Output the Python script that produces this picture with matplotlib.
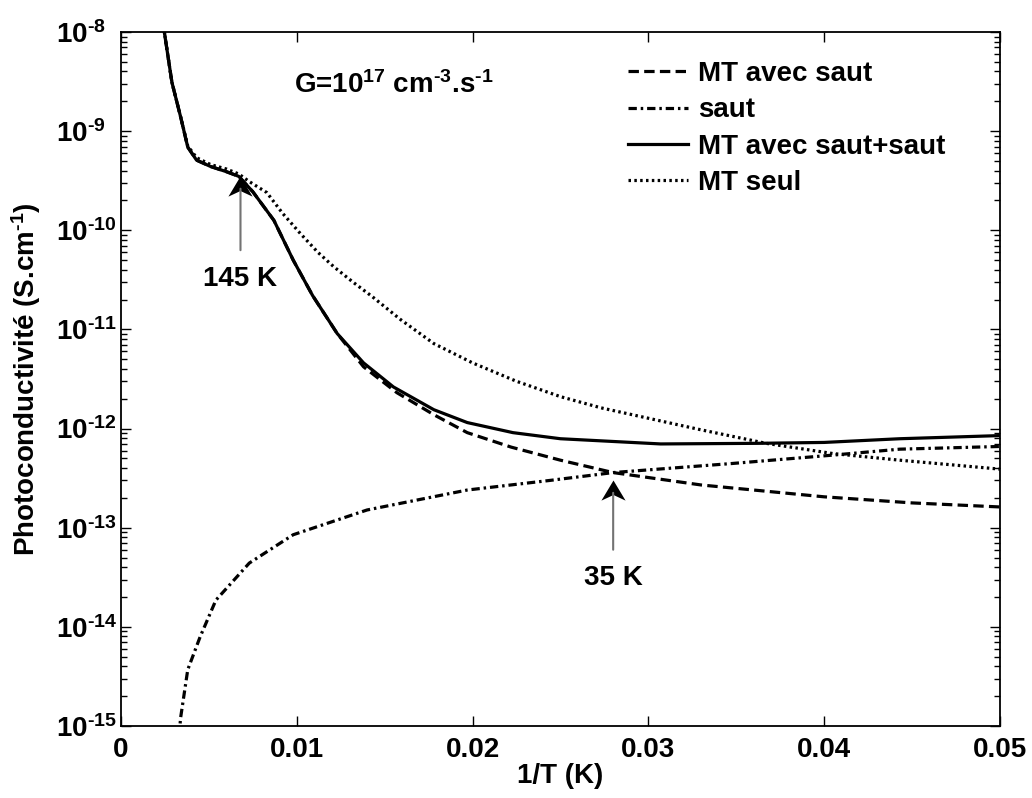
import numpy as np
import matplotlib
matplotlib.use('Agg')
from matplotlib import pyplot as plt
from matplotlib.path import Path
from matplotlib.ticker import LogLocator, NullFormatter, FuncFormatter

plt.rcParams['font.family'] = 'Liberation Sans'
plt.rcParams['font.weight'] = 'bold'
plt.rcParams['axes.labelweight'] = 'bold'
plt.rcParams['font.size'] = 20
plt.rcParams['mathtext.fontset'] = 'custom'
plt.rcParams['mathtext.rm'] = 'Liberation Sans:bold'
plt.rcParams['mathtext.it'] = 'Liberation Sans:bold'
plt.rcParams['mathtext.bf'] = 'Liberation Sans:bold'
plt.rcParams['lines.scale_dashes'] = False

# MT avec saut + saut (solid)
x_total = [0.0024, 0.0029, 0.0034, 0.0038, 0.0043, 0.0051, 0.0060, 0.0067, 0.0075, 0.0087,
           0.0098, 0.0109, 0.0123, 0.0138, 0.0155, 0.0178, 0.0197, 0.0223, 0.0250, 0.0307,
           0.0362, 0.0400, 0.0443, 0.0500]
s_total = [1.2e-8, 3.1e-9, 1.38e-9, 6.9e-10, 5.1e-10, 4.4e-10, 3.9e-10, 3.5e-10, 2.45e-10, 1.26e-10,
           5.0e-11, 2.2e-11, 9.1e-12, 4.6e-12, 2.63e-12, 1.55e-12, 1.15e-12, 9.1e-13, 7.9e-13, 7.0e-13,
           7.1e-13, 7.25e-13, 7.9e-13, 8.5e-13]

# MT avec saut (dashed)
x_mt_saut = [0.0024, 0.0029, 0.0034, 0.0038, 0.0043, 0.0051, 0.0060, 0.0067, 0.0075, 0.0087,
             0.0098, 0.0109, 0.0123, 0.0138, 0.0157, 0.0178, 0.0197, 0.0222, 0.0250, 0.0280,
             0.0330, 0.0400, 0.0450, 0.0500]
s_mt_saut = [1.2e-8, 3.1e-9, 1.38e-9, 6.9e-10, 5.1e-10, 4.4e-10, 3.9e-10, 3.5e-10, 2.45e-10, 1.26e-10,
             5.0e-11, 2.2e-11, 9.1e-12, 4.2e-12, 2.3e-12, 1.38e-12, 9.1e-13, 6.5e-13, 4.8e-13, 3.6e-13,
             2.7e-13, 2.05e-13, 1.78e-13, 1.62e-13]

# saut (dash-dot)
x_saut = [0.0033, 0.0034, 0.0038, 0.0045, 0.0054, 0.0073, 0.0098, 0.0140, 0.0197, 0.0244,
          0.0280, 0.0348, 0.0405, 0.0443, 0.0500]
s_saut = [8.0e-16, 1.23e-15, 3.7e-15, 7.9e-15, 1.86e-14, 4.4e-14, 8.5e-14, 1.51e-13, 2.4e-13, 3.0e-13,
          3.6e-13, 4.45e-13, 5.4e-13, 6.2e-13, 6.6e-13]

# MT seul (dotted)
x_mt_seul = [0.0024, 0.0029, 0.0034, 0.0038, 0.0043, 0.0051, 0.0060, 0.0067, 0.0073, 0.0083,
             0.0092, 0.0102, 0.0112, 0.0121, 0.0132, 0.0143, 0.0159, 0.0178, 0.0200, 0.0225,
             0.0250, 0.0273, 0.0329, 0.0367, 0.0405, 0.0443, 0.0500]
s_mt_seul = [1.2e-8, 3.1e-9, 1.38e-9, 7.1e-10, 5.4e-10, 4.6e-10, 4.15e-10, 3.7e-10, 3.1e-10, 2.4e-10,
             1.48e-10, 9.3e-11, 6.0e-11, 4.3e-11, 3.0e-11, 2.14e-11, 1.26e-11, 7.2e-12, 4.6e-12, 3.0e-12,
             2.1e-12, 1.62e-12, 9.8e-13, 7.1e-13, 5.6e-13, 4.8e-13, 3.9e-13]

labels = ['MT avec saut', 'saut', 'MT avec saut+saut', 'MT seul']

# arrows: tip (1/T, sigma), tail sigma, text sigma
arrow_145 = (0.0068, 3.5e-10, 6.3e-11, 3.2e-11)
arrow_35 = (0.0280, 3.0e-13, 6.0e-14, 3.1e-14)


def dec_label(v, pos):
    e = int(round(np.log10(v)))
    return r'$\mathdefault{10^{\text{-}%d}}$' % (-e)


fig = plt.figure(figsize=(10.32, 7.98), dpi=100)
ax = fig.add_axes([0.1172, 0.0902, 0.8517, 0.8697])

lw = 2.3
ax.plot(x_mt_saut, s_mt_saut, color='k', lw=lw, dashes=(7.5, 3.8), label=labels[0])
ax.plot(x_saut, s_saut, color='k', lw=lw, dashes=(6, 2.8, 1.8, 2.8), label=labels[1])
ax.plot(x_total, s_total, color='k', lw=lw, label=labels[2])
ax.plot(x_mt_seul, s_mt_seul, color='k', lw=lw, dashes=(1.8, 2.4), label=labels[3])

ax.set_yscale('log')
ax.set_xlim(0, 0.05)
ax.set_ylim(1e-15, 1e-8)
ax.set_xticks([0, 0.01, 0.02, 0.03, 0.04, 0.05])
ax.set_xticklabels(['0', '0.01', '0.02', '0.03', '0.04', '0.05'])
ax.yaxis.set_major_locator(LogLocator(base=10, numticks=20))
ax.yaxis.set_major_formatter(FuncFormatter(dec_label))
ax.yaxis.set_minor_locator(LogLocator(base=10, subs=np.arange(2, 10), numticks=20))
ax.yaxis.set_minor_formatter(NullFormatter())
ax.tick_params(which='both', direction='in', top=True, right=True, width=1)
ax.tick_params(which='major', length=7)
ax.tick_params(which='minor', length=4)
ax.tick_params(axis='x', pad=8)
# "10" of every decade label starts at the same x
ax.tick_params(axis='y', pad=47)
for lab in ax.get_yticklabels():
    lab.set_horizontalalignment('left')
for s in ax.spines.values():
    s.set_linewidth(1.3)

ax.set_xlabel('1/T (K)', labelpad=0)
ax.set_ylabel(r'Photoconductivité (S.cm$^{\text{-}1}$)', labelpad=9)

ax.text(0.00985, 2.9e-9, r'G=10$^{17}$ cm$^{\text{-}3}$.s$^{\text{-}1}$', ha='left', va='center')

# arrow head shaped like matlab's
head = Path([(0, 0), (-0.6, -1), (0, -0.72), (0.6, -1), (0, 0)],
            [Path.MOVETO, Path.LINETO, Path.LINETO, Path.LINETO, Path.CLOSEPOLY])
for (xa, tip, tail, ytxt), txt in [(arrow_145, '145 K'), (arrow_35, '35 K')]:
    ax.annotate('', xy=(xa, tip * 0.75), xytext=(xa, tail),
                arrowprops=dict(arrowstyle='-', color='0.45', lw=1.5, shrinkA=0, shrinkB=0))
    ax.plot([xa], [tip], marker=head, ms=29, color='k', mew=0, ls='none')
    ax.text(xa, ytxt, txt, ha='center', va='center')

ax.legend(loc='upper left', bbox_to_anchor=(0.577, 0.958), frameon=False,
          handlelength=2.15, handletextpad=0.36, labelspacing=0.37,
          borderpad=0, borderaxespad=0)

fig.savefig('out.png', dpi=100)
